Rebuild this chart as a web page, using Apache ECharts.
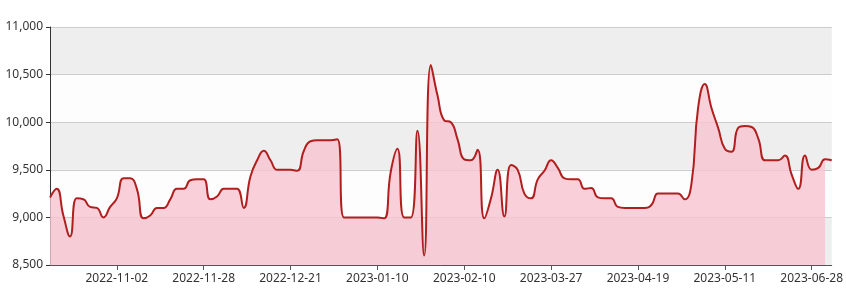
<!DOCTYPE html>
<html>
<head>
<meta charset="utf-8">
<script src="https://cdn.jsdelivr.net/npm/echarts@6/dist/echarts.min.js"></script>
<style>
html,body{margin:0;padding:0;background:#fff;}
#chart{width:846px;height:296px;}
</style>
</head>
<body>
<div id="chart"></div>
<script>
const categories = [
  '2022-10-12','2022-10-14','2022-10-17','2022-10-19','2022-10-21','2022-10-24','2022-10-25','2022-10-26','2022-10-28','2022-10-31','2022-11-02',
  '2022-11-04','2022-11-07','2022-11-09','2022-11-11','2022-11-14','2022-11-16','2022-11-17','2022-11-18','2022-11-21','2022-11-22','2022-11-23','2022-11-25','2022-11-28',
  '2022-11-30','2022-12-01','2022-12-02','2022-12-05','2022-12-06','2022-12-07','2022-12-09','2022-12-12','2022-12-13','2022-12-14','2022-12-16','2022-12-19','2022-12-21',
  '2022-12-22','2022-12-23','2022-12-26','2022-12-27','2022-12-28','2022-12-29','2022-12-30','2023-01-02','2023-01-03','2023-01-04','2023-01-05','2023-01-06','2023-01-10',
  '2023-01-12','2023-01-13','2023-01-16','2023-01-18','2023-01-19','2023-01-20','2023-01-27','2023-01-30','2023-02-01','2023-02-03','2023-02-06','2023-02-08','2023-02-10',
  '2023-02-14','2023-02-17','2023-02-21','2023-02-24','2023-02-28','2023-03-03','2023-03-07','2023-03-10','2023-03-14','2023-03-17','2023-03-21','2023-03-24','2023-03-27',
  '2023-03-28','2023-03-29','2023-03-31','2023-04-03','2023-04-04','2023-04-06','2023-04-07','2023-04-10','2023-04-11','2023-04-13','2023-04-14','2023-04-17','2023-04-19',
  '2023-04-20','2023-04-21','2023-04-24','2023-04-25','2023-04-26','2023-04-27','2023-04-28','2023-05-02','2023-05-04','2023-05-05','2023-05-08','2023-05-10','2023-05-11',
  '2023-05-15','2023-05-18','2023-05-22','2023-05-25','2023-05-29','2023-06-01','2023-06-05','2023-06-08','2023-06-12','2023-06-15','2023-06-19','2023-06-23','2023-06-28',
  '2023-06-29','2023-06-30','2023-07-03'
];
const values = [
  9210,9300,9020,8800,9200,9190,9110,9100,9000,9110,9200,
  9410,9410,9300,8990,9020,9100,9100,9190,9300,9300,9390,9400,9400,
  9190,9220,9300,9300,9300,9100,9430,9600,9700,9600,9500,9500,9500,
  9490,9700,9800,9810,9810,9810,9820,9000,9000,9000,9000,9000,9000,
  8990,9480,9720,9000,9000,9910,8600,10600,10280,10020,10000,9820,9610,
  9600,9710,8990,9200,9500,9010,9550,9500,9250,9200,9400,9490,9600,
  9520,9410,9400,9400,9300,9310,9210,9200,9200,9110,9100,9100,9100,
  9100,9130,9250,9250,9250,9250,9190,9350,10150,10400,10150,9940,9720,
  9690,9940,9960,9950,9830,9600,9600,9600,9650,9450,9300,9650,9500,
  9520,9610,9600
];
const yTicks = { min: 8500, max: 11000, interval: 500 };
const labelEvery = 13, labelOffset = 10;

const areaValues = values.map((v, i) => i === values.length - 1 ? '-' : v);
const showIdx = (i) => i % labelEvery === labelOffset;
const font = "'Noto Sans', 'Open Sans', sans-serif";

const chart = echarts.init(document.getElementById('chart'), null, {renderer: 'canvas'});
chart.setOption({
  animation: false,
  grid: { left: 50, right: 11, top: 27, bottom: 31 },
  xAxis: {
    type: 'category',
    data: categories,
    boundaryGap: false,
    axisLine: { lineStyle: { color: '#555', width: 1 } },
    axisTick: { show: true, interval: showIdx, length: 5, lineStyle: { color: '#555' } },
    axisLabel: { interval: showIdx, color: '#333', fontSize: 12, fontFamily: font, margin: 8 },
    splitLine: { show: false }
  },
  yAxis: {
    type: 'value',
    min: yTicks.min, max: yTicks.max, interval: yTicks.interval,
    axisLine: { show: true, lineStyle: { color: '#333', width: 1 } },
    axisTick: { show: true, length: 4, lineStyle: { color: '#333' } },
    axisLabel: { color: '#333', fontSize: 12, fontFamily: font, margin: 7,
      formatter: (v) => v.toLocaleString('en-US') },
    splitLine: { show: true, lineStyle: { color: '#cccccc', width: 1 } },
    splitArea: { show: true, areaStyle: { color: ['#eeeeee', '#fdfdfd'] } }
  },
  series: [
    {
      type: 'line', data: areaValues, smooth: true, showSymbol: false,
      lineStyle: { width: 0 },
      areaStyle: { color: 'rgb(248,196,208)', opacity: 0.8 },
      z: 1
    },
    {
      type: 'line', data: values, smooth: true, showSymbol: false,
      lineStyle: { color: '#b01e1e', width: 2 },
      z: 2
    }
  ]
});
</script>
</body>
</html>
